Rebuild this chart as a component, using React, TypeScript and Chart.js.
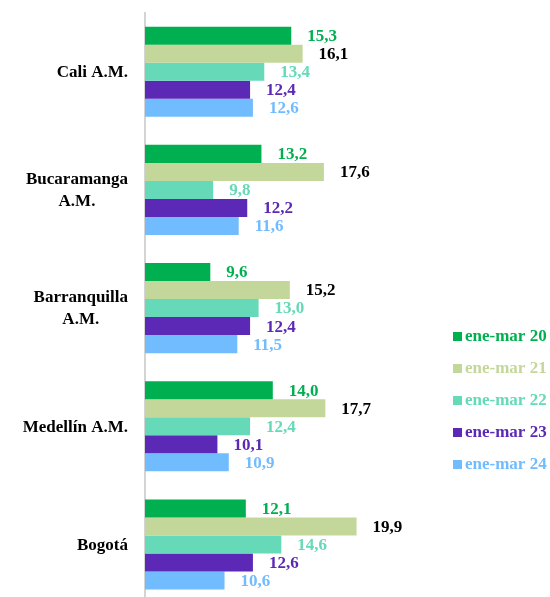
import { useEffect, useRef } from "react";
import { Chart, registerables } from "chart.js";

Chart.register(...registerables);

const categories: string[][] = [
  ["Cali A.M."],
  ["Bucaramanga", "A.M."],
  ["Barranquilla", "A.M."],
  ["Medellín A.M."],
  ["Bogotá"],
];
const seriesNames = ["ene-mar 20", "ene-mar 21", "ene-mar 22", "ene-mar 23", "ene-mar 24"];
const s20 = [15.3, 13.2, 9.6, 14.0, 12.1];
const s21 = [16.1, 17.6, 15.2, 17.7, 19.9];
const s22 = [13.4, 9.8, 13.0, 12.4, 14.6];
const s23 = [12.4, 12.2, 12.4, 10.1, 12.6];
const s24 = [12.6, 11.6, 11.5, 10.9, 10.6];
const seriesValues = [s20, s21, s22, s23, s24];
const barColors = ["#00b050", "#c4d79b", "#66d9b8", "#5b29b5", "#70bcff"];
const valueLabelColors = ["#00b050", "#000000", "#66d9b8", "#5b29b5", "#70bcff"];
const legendTextColors = ["#00b050", "#c4d79b", "#66d9b8", "#5b29b5", "#70bcff"];
const xMin = 5;
const xMax = 25;

const FONT = "'Liberation Serif', 'Times New Roman', serif";

const valueLabelPlugin = {
  id: "valueLabels",
  afterDatasetsDraw(chart: any) {
    const ctx = chart.ctx;
    ctx.save();
    ctx.font = `bold 17px ${FONT}`;
    ctx.textAlign = "left";
    ctx.textBaseline = "middle";
    chart.data.datasets.forEach((ds: any, di: number) => {
      const meta = chart.getDatasetMeta(di);
      meta.data.forEach((el: any, i: number) => {
        const v = ds.data[i] as number;
        ctx.fillStyle = valueLabelColors[di];
        ctx.fillText(v.toFixed(1).replace(".", ","), el.x + 16, el.y + 1);
      });
    });
    ctx.restore();
  },
};

const categoryLabelPlugin = {
  id: "categoryLabels",
  afterDraw(chart: any) {
    const ctx = chart.ctx;
    const yScale = chart.scales.y;
    ctx.save();
    ctx.font = `bold 17px ${FONT}`;
    ctx.fillStyle = "#000000";
    ctx.textAlign = "center";
    ctx.textBaseline = "middle";
    const right = 128;
    const lineH = 22;
    categories.forEach((lines, i) => {
      const yc = yScale.getPixelForTick(i);
      const maxW = Math.max(...lines.map((l) => ctx.measureText(l).width));
      const cx = right - maxW / 2;
      const y0 = yc - ((lines.length - 1) * lineH) / 2;
      lines.forEach((l, li) => ctx.fillText(l, cx, y0 + li * lineH + 1));
    });
    ctx.restore();
  },
};

const legendPlugin = {
  id: "customLegend",
  afterDraw(chart: any) {
    const ctx = chart.ctx;
    ctx.save();
    ctx.font = `bold 17px ${FONT}`;
    ctx.textAlign = "left";
    ctx.textBaseline = "middle";
    const x0 = 453;
    const yStart = 336;
    const step = 32;
    chart.data.datasets.forEach((ds: any, di: number) => {
      const y = yStart + di * step;
      ctx.fillStyle = barColors[di];
      ctx.fillRect(x0, y - 4, 9, 9);
      ctx.fillStyle = legendTextColors[di];
      ctx.fillText(ds.label, x0 + 12, y + 1);
    });
    ctx.restore();
  },
};

export default function App() {
  const canvasRef = useRef<HTMLCanvasElement | null>(null);

  useEffect(() => {
    const canvas = canvasRef.current;
    if (!canvas) return;
    const chart = new Chart(canvas, {
      type: "bar",
      data: {
        labels: categories.map((c) => c.join(" ")),
        datasets: seriesNames.map((name, i) => ({
          label: name,
          data: seriesValues[i],
          backgroundColor: barColors[i],
          borderWidth: 0,
          barPercentage: 1,
          categoryPercentage: 0.762,
        })),
      },
      options: {
        indexAxis: "y",
        responsive: false,
        maintainAspectRatio: false,
        animation: false,
        layout: { padding: { top: 12.6, bottom: 6.4, right: 121, left: 0 } },
        plugins: {
          legend: { display: false },
          tooltip: { enabled: false },
        },
        scales: {
          x: {
            min: xMin,
            max: xMax,
            display: false,
          },
          y: {
            grid: { display: false },
            border: { display: true, color: "#d4d4d4", width: 2 },
            ticks: { display: false },
            afterFit: (scale: any) => {
              scale.width = 145;
            },
          },
        },
      },
      plugins: [valueLabelPlugin, categoryLabelPlugin, legendPlugin],
    });
    return () => chart.destroy();
  }, []);

  return (
    <div
      style={{
        position: "fixed",
        left: 0,
        top: 0,
        width: 550,
        height: 597,
        overflow: "hidden",
        background: "#ffffff",
      }}
    >
      <canvas ref={canvasRef} width={550} height={610} style={{ display: "block", width: 550, height: 610 }} />
    </div>
  );
}
